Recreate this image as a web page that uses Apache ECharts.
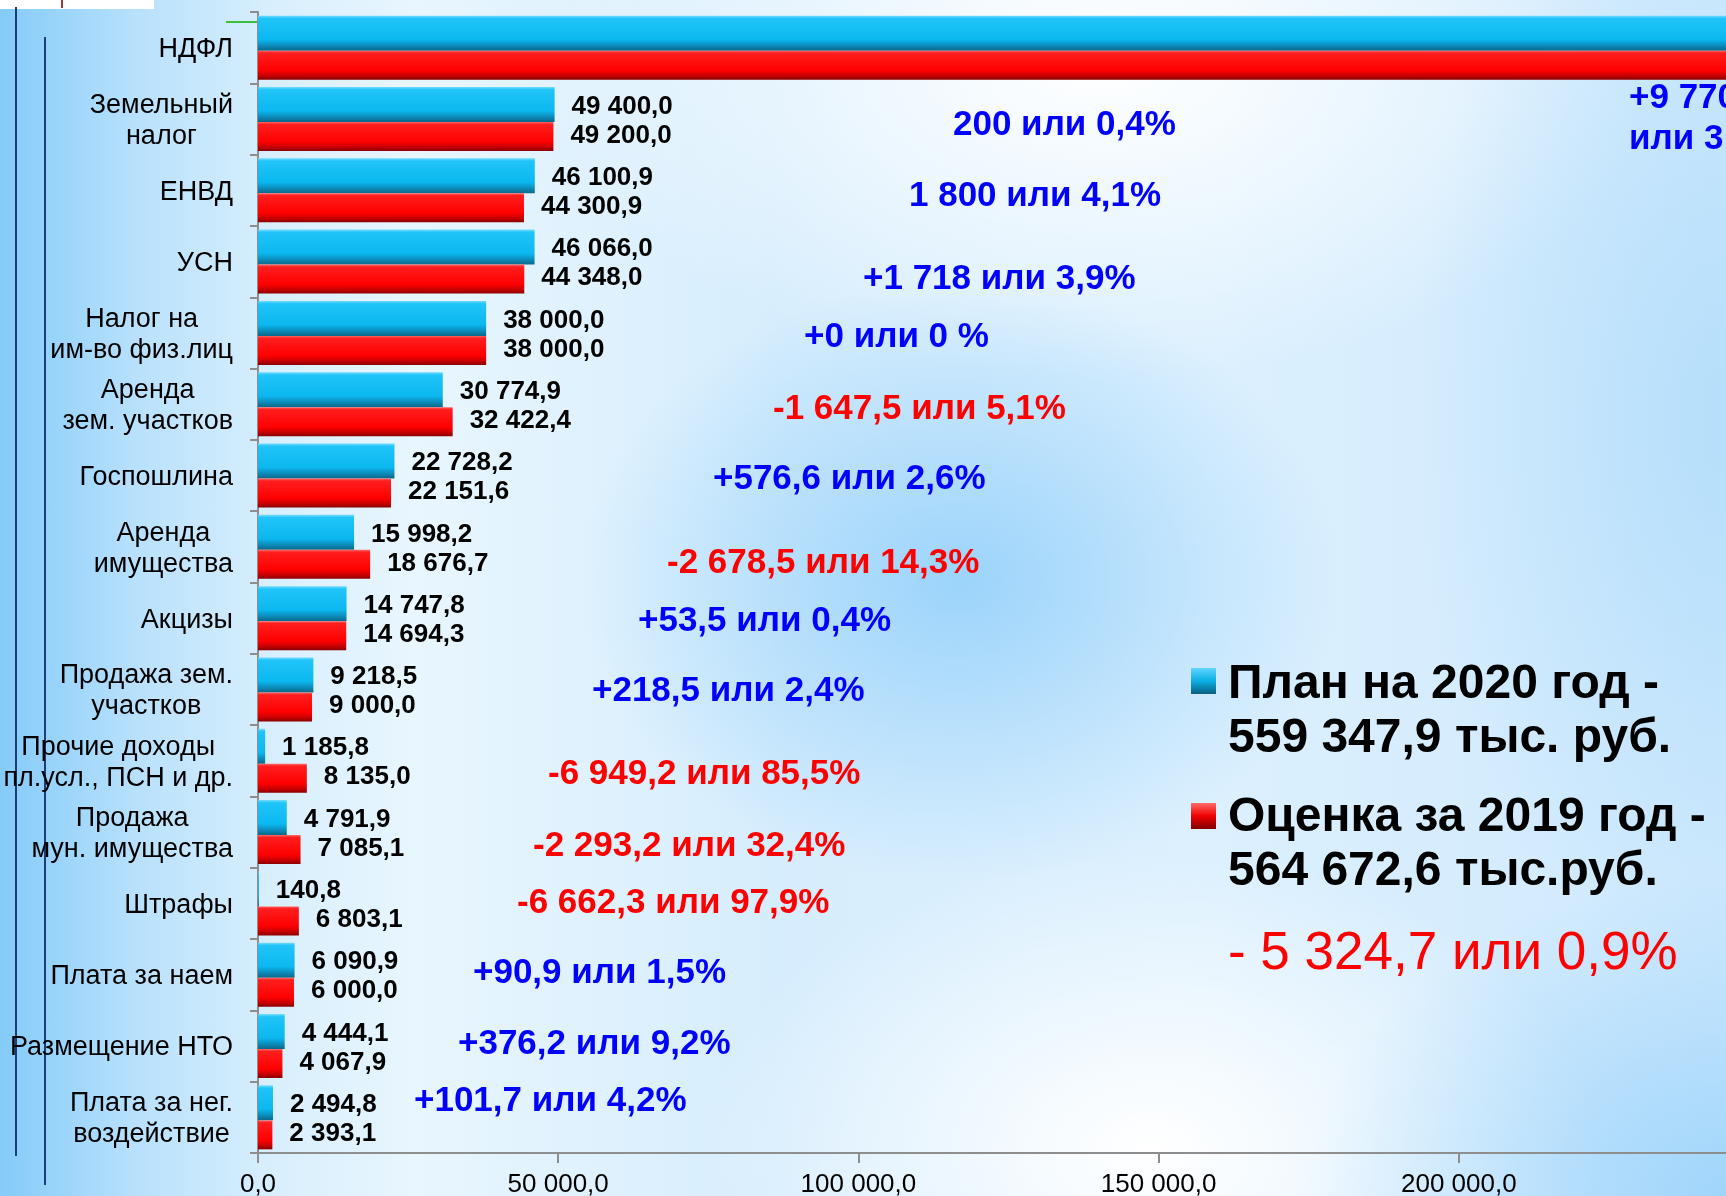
<!DOCTYPE html>
<html>
<head>
<meta charset="utf-8">
<script src="https://cdn.jsdelivr.net/npm/echarts@6/dist/echarts.min.js"></script>
<style>
html, body { margin: 0; padding: 0; }
body {
    width: 1726px; height: 1196px; overflow: hidden;
    background:
        radial-gradient(ellipse 380px 300px at 960px 580px, rgba(140,205,250,0.8) 0%, rgba(140,205,250,0) 100%),
        radial-gradient(ellipse 420px 320px at 1726px 1196px, rgba(140,205,250,0.7) 0%, rgba(140,205,250,0) 100%),
        radial-gradient(ellipse 320px 560px at 1726px 420px, rgba(170,218,250,0.7) 0%, rgba(170,218,250,0) 100%),
        radial-gradient(ellipse 560px 320px at 1100px 60px, #ffffff 0%, rgba(255,255,255,0) 100%),
        radial-gradient(ellipse 450px 300px at 1150px 1150px, #ffffff 0%, rgba(255,255,255,0) 100%),
        linear-gradient(90deg, #84cbf9 0%, #b9e1fc 8%, #d9effd 16%, #e8f6fe 24%, #d6edfd 45%, #dcf0fe 70%, #cfe9fd 100%);
}
#chart { width: 1800px; height: 1196px; }
</style>
</head>
<body>
<div id="chart"></div>
<script>
// статьи доходов, сверху вниз
const categories = ['НДФЛ', 'Земельный\nналог', 'ЕНВД', 'УСН', 'Налог на\nим-во физ.лиц',
    'Аренда\nзем. участков', 'Госпошлина', 'Аренда\nимущества', 'Акцизы', 'Продажа зем.\nучастков',
    'Прочие доходы\nпл.усл., ПСН и др.', 'Продажа\nмун. имущества', 'Штрафы', 'Плата за наем',
    'Размещение НТО', 'Плата за нег.\nвоздействие'];

// план на 2020 год, тыс. руб.
const plan2020 = [267165.1, 49400.0, 46100.9, 46066.0, 38000.0, 30774.9, 22728.2, 15998.2,
    14747.8, 9218.5, 1185.8, 4791.9, 140.8, 6090.9, 4444.1, 2494.8];
// оценка за 2019 год, тыс. руб.
const est2019 = [257394.5, 49200.0, 44300.9, 44348.0, 38000.0, 32422.4, 22151.6, 18676.7,
    14694.3, 9000.0, 8135.0, 7085.1, 6803.1, 6000.0, 4067.9, 2393.1];

// отклонения (подписи справа)
const changeText = ['+9 770,6\nили 3,8%', '200 или 0,4%', '1 800 или 4,1%', '+1 718 или 3,9%',
    '+0 или 0 %', '-1 647,5 или 5,1%', '+576,6 или 2,6%', '-2 678,5 или 14,3%', '+53,5 или 0,4%',
    '+218,5 или 2,4%', '-6 949,2 или 85,5%', '-2 293,2 или 32,4%', '-6 662,3 или 97,9%',
    '+90,9 или 1,5%', '+376,2 или 9,2%', '+101,7 или 4,2%'];

const seriesNames = ['План на 2020 год', 'Оценка за 2019 год'];
const legendText = ['План на 2020 год -\n559 347,9 тыс. руб.', 'Оценка за 2019 год -\n564 672,6 тыс.руб.'];
const totalChange = '- 5 324,7 или 0,9%';

const xMin = 0, xMax = 250000, xStep = 50000;

// где стоят подписи отклонений (px по x, сдвиг от центра строки)
const noteX = [1629, 953, 909, 863, 804, 773, 713, 667, 638, 592, 548, 533, 517, 473, 458, 414];
const noteDy = [71, 6, 6, 18, 4, 5, 4, 16, 3, 2, 14, 14, 0, -1, -2, -16];

const FONT = '"Liberation Sans", Arial, sans-serif';

function fmt(v) {
    const parts = Number(v).toFixed(1).split('.');
    return parts[0].replace(/\B(?=(\d{3})+(?!\d))/g, ' ') + ',' + parts[1];
}

const blueFill = new echarts.graphic.LinearGradient(0, 0, 0, 1, [
    { offset: 0, color: '#74dbff' },
    { offset: 0.08, color: '#20c4f8' },
    { offset: 0.68, color: '#0bb8f0' },
    { offset: 0.84, color: '#0c90c0' },
    { offset: 1, color: '#0a6788' }
]);
const redFill = new echarts.graphic.LinearGradient(0, 0, 0, 1, [
    { offset: 0, color: '#ff6a6a' },
    { offset: 0.08, color: '#ff1e1e' },
    { offset: 0.68, color: '#ff0000' },
    { offset: 0.86, color: '#c80000' },
    { offset: 1, color: '#8a0000' }
]);

function valueLabel(dy) {
    return {
        show: true,
        position: 'right',
        distance: 17,
        offset: [0, dy],
        color: '#000',
        fontSize: 26,
        fontWeight: 'bold',
        fontFamily: FONT,
        formatter: p => fmt(p.value)
    };
}

const chart = echarts.init(document.getElementById('chart'));

const option = {
    animation: false,
    grid: { left: 258, top: 12, width: 1501, height: 1141, containLabel: false, outerBoundsMode: 'none' },
    xAxis: {
        type: 'value',
        min: xMin,
        max: xMax,
        interval: xStep,
        axisLine: { show: true, lineStyle: { color: '#8e8e8e', width: 2 } },
        axisTick: { show: true, length: 10, lineStyle: { color: '#8e8e8e', width: 2 } },
        splitLine: { show: false },
        axisLabel: {
            margin: 19,
            showMaxLabel: false,
            color: '#000',
            fontSize: 26,
            fontFamily: FONT,
            formatter: v => fmt(v)
        }
    },
    yAxis: {
        type: 'category',
        inverse: true,
        data: categories,
        axisLine: { show: true, lineStyle: { color: '#8e8e8e', width: 2 } },
        axisTick: { show: true, length: 8, lineStyle: { color: '#8e8e8e', width: 2 } },
        axisLabel: {
            margin: 25,
            color: '#000',
            fontSize: 27,
            fontFamily: FONT,
            lineHeight: 31,
            formatter: v => v.split('\n').map(s => '{c|' + s + '}').join('\n'),
            rich: {
                c: { fontSize: 27, fontFamily: FONT, color: '#000', lineHeight: 31, align: 'center', padding: [4, 0, 0, 0] }
            }
        }
    },
    series: [
        {
            name: seriesNames[0],
            type: 'bar',
            data: plan2020,
            barWidth: 35,
            barGap: '0%',
            itemStyle: { color: blueFill },
            label: valueLabel(2)
        },
        {
            name: seriesNames[1],
            type: 'bar',
            data: est2019,
            barWidth: 29,
            barGap: '0%',
            itemStyle: { color: redFill },
            label: valueLabel(-1)
        }
    ]
};

chart.setOption(option);

// подписи отклонений, привязанные к строкам оси
const graphics = [];
categories.forEach((c, i) => {
    const cy = chart.convertToPixel({ yAxisIndex: 0 }, i);
    const txt = changeText[i];
    graphics.push({
        type: 'text',
        x: noteX[i],
        y: cy + noteDy[i],
        silent: true,
        style: {
            text: txt,
            fill: txt.charAt(0) === '-' ? '#ff0000' : '#0000ff',
            fontSize: 35,
            fontWeight: 'bold',
            fontFamily: FONT,
            lineHeight: 41,
            align: 'left',
            verticalAlign: 'middle'
        }
    });
});

// легенда
const legendTop = [658, 791];
const iconTop = [668, 803];
const iconFill = [
    new echarts.graphic.LinearGradient(0, 0, 0, 1, [
        { offset: 0, color: '#5fd6ff' }, { offset: 0.5, color: '#0aaee6' }, { offset: 1, color: '#0a5f80' }]),
    new echarts.graphic.LinearGradient(0, 0, 0, 1, [
        { offset: 0, color: '#ff6a6a' }, { offset: 0.5, color: '#f00000' }, { offset: 1, color: '#800000' }])
];
legendText.forEach((t, i) => {
    graphics.push({
        type: 'rect',
        shape: { x: 1191, y: iconTop[i], width: 25, height: 26 },
        style: { fill: iconFill[i] },
        silent: true
    });
    graphics.push({
        type: 'text',
        x: 1228,
        y: legendTop[i],
        silent: true,
        style: {
            text: t,
            fill: '#000',
            fontSize: 48,
            fontWeight: 'bold',
            fontFamily: FONT,
            lineHeight: 54,
            align: 'left',
            verticalAlign: 'top'
        }
    });
});
graphics.push({
    type: 'text',
    x: 1228,
    y: 954,
    silent: true,
    style: {
        text: totalChange,
        fill: '#ff0000',
        fontSize: 53,
        fontFamily: FONT,
        align: 'left',
        verticalAlign: 'middle'
    }
});

// мелочи слайда: линии слева, белая плашка, зелёный штрих
graphics.push(
    { type: 'rect', shape: { x: 0, y: 0, width: 154, height: 9 }, style: { fill: '#ffffff' }, silent: true },
    { type: 'line', shape: { x1: 62, y1: 0, x2: 62, y2: 8 }, style: { stroke: '#a03a3a', lineWidth: 2 }, silent: true },
    { type: 'line', shape: { x1: 16, y1: 7, x2: 16, y2: 1156 }, style: { stroke: '#1c3d7a', lineWidth: 2 }, silent: true },
    { type: 'line', shape: { x1: 45, y1: 37, x2: 45, y2: 1185 }, style: { stroke: '#1c3d7a', lineWidth: 2 }, silent: true },
    { type: 'line', shape: { x1: 226, y1: 22, x2: 257, y2: 22 }, style: { stroke: '#3cc03c', lineWidth: 2 }, silent: true }
);

chart.setOption({ graphic: graphics });
</script>
</body>
</html>
